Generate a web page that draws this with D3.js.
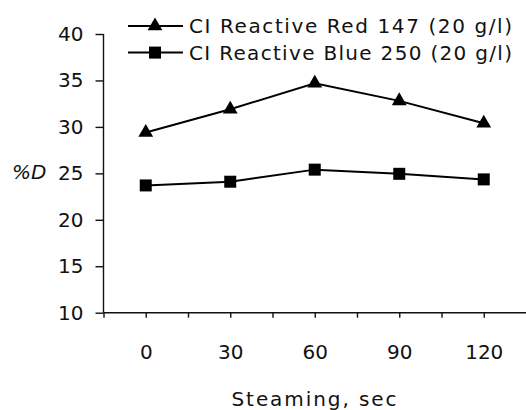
<!DOCTYPE html>
<html>
<head>
<meta charset="utf-8">
<script src="https://cdn.jsdelivr.net/npm/d3@7"></script>
<style>
  body { margin: 0; background: #fff; }
  svg { display: block; }
  text { font-family: "DejaVu Sans", sans-serif; fill: #111; }
</style>
</head>
<body>
<svg id="chart"></svg>
<script>
// data
const steaming = [0, 30, 60, 90, 120];
const red147 = [29.4, 31.9, 34.7, 32.8, 30.4];
const blue250 = [23.7, 24.1, 25.4, 24.95, 24.35];
const seriesNames = ["CI Reactive Red 147 (20 g/l)", "CI Reactive Blue 250 (20 g/l)"];
const yTicks = [10, 15, 20, 25, 30, 35, 40];
const xTicks = [-15, 0, 15, 30, 45, 60, 75, 90, 105, 120];
const xLabels = [0, 30, 60, 90, 120];

const width = 526, height = 410;
const fontsize = 20;

const svg = d3.select("#chart")
  .attr("width", width)
  .attr("height", height);

// scales
const xScale = d3.scaleLinear().domain([-15, 135]).range([103.5, 526]);
const yScale = d3.scaleLinear().domain([10, 40]).range([312.7, 34]);

//**************************************axes
const yAxis = d3.axisLeft(yScale)
  .tickValues(yTicks)
  .tickSize(8)
  .tickPadding(12);

const yAxisG = svg.append("g")
  .attr("transform", `translate(${xScale.range()[0]},0)`)
  .call(yAxis);
yAxisG.select(".domain").attr("d", `M0,${yScale(40)}V${yScale(10)}`);
yAxisG.selectAll("text").style("font-size", fontsize);

const xAxis = d3.axisBottom(xScale)
  .tickValues(xTicks)
  .tickSize(5)
  .tickPadding(27)
  .tickFormat(d => xLabels.includes(d) ? d : "");

const xAxisG = svg.append("g")
  .attr("transform", `translate(0,${yScale(10)})`)
  .call(xAxis);
xAxisG.select(".domain").attr("d", `M${xScale(-15)},0H${width}`);
xAxisG.selectAll("text").style("font-size", fontsize);

svg.selectAll(".domain, .tick line")
  .attr("stroke", "#111")
  .attr("stroke-width", 1.4);

//**************************************titles
svg.append("text")
  .attr("x", 314)
  .attr("y", 406)
  .attr("text-anchor", "middle")
  .attr("textLength", 165)
  .attr("lengthAdjust", "spacing")
  .style("font-size", fontsize)
  .text("Steaming, sec");

svg.append("text")
  .attr("x", 12)
  .attr("y", 179)
  .style("font-size", fontsize)
  .style("font-style", "italic")
  .text("%D");

//**************************************lines and markers
const series = [
  { name: seriesNames[0], values: red147, symbol: d3.symbolTriangle, size: 95 },
  { name: seriesNames[1], values: blue250, symbol: d3.symbolSquare, size: 144 }
];

const line = d3.line()
  .x((d, i) => xScale(steaming[i]))
  .y(d => yScale(d));

series.forEach(s => {
  svg.append("path")
    .attr("d", line(s.values))
    .attr("fill", "none")
    .attr("stroke", "#000")
    .attr("stroke-width", 2);

  svg.selectAll(null)
    .data(s.values)
    .enter()
    .append("path")
    .attr("d", d3.symbol().type(s.symbol).size(s.size))
    .attr("transform", (d, i) => `translate(${xScale(steaming[i])},${yScale(d)})`)
    .attr("fill", "#000");
});

//**************************************legend
const legend = svg.selectAll("g.legend")
  .data(series)
  .enter()
  .append("g")
  .attr("class", "legend")
  .attr("transform", (d, i) => `translate(0,${26 + i * 26.6})`);

legend.append("line")
  .attr("x1", 128)
  .attr("x2", 183)
  .attr("stroke", "#000")
  .attr("stroke-width", 2);

legend.append("path")
  .attr("d", d => d3.symbol().type(d.symbol).size(d.size)())
  .attr("transform", "translate(155,0)")
  .attr("fill", "#000");

legend.append("text")
  .attr("x", 189)
  .attr("y", 7)
  .attr("textLength", 323)
  .attr("lengthAdjust", "spacing")
  .style("font-size", fontsize)
  .text(d => d.name);
</script>
</body>
</html>
